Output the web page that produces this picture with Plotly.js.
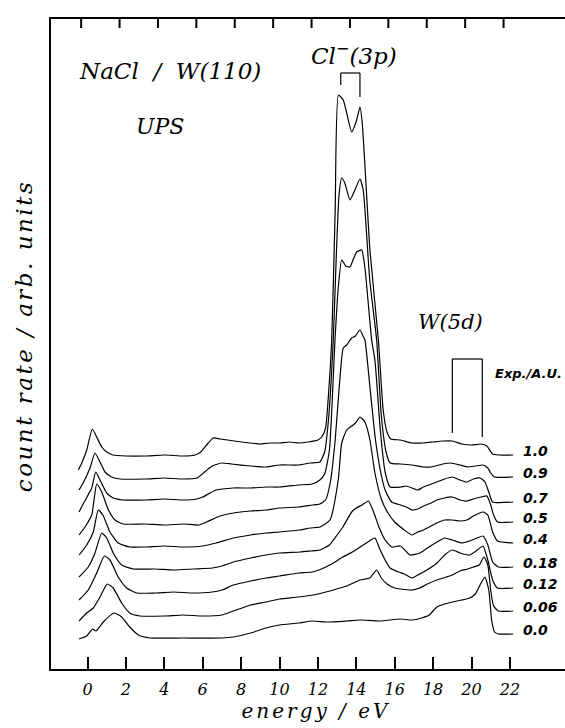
<!DOCTYPE html>
<html><head><meta charset="utf-8">
<script src="https://cdn.plot.ly/plotly-3.0.1.min.js"></script>
<style>html,body{margin:0;padding:0;background:#fff;overflow:hidden}#chart{width:565px;height:728px}</style>
</head><body><div id="chart"></div>
<script>
// coverage labels (top to bottom)
const coverage = ['1.0','0.9','0.7','0.5','0.4','0.18','0.12','0.06','0.0'];

// energies (eV) and count rate (arb. units, stacked)
const e_10 = [-0.48,-0.3,-0.04,0.25,0.48,0.74,1.0,1.33,2.0,3.0,4.0,5.0,5.6,5.9,6.2,6.55,6.9,7.3,8.0,8.5,9.0,9.5,10.0,10.5,11.0,11.5,12.0,12.2,12.4,12.55,12.72,12.9,13.07,13.32,13.5,13.76,14.02,14.19,14.31,14.71,15.15,15.4,15.6,15.8,16.3,16.9,17.5,18.0,18.5,19.0,19.5,20.0,20.5,20.8,21.1,21.4,22.17];
const y_10 = [199,206,219,240,232,222,217,214,213,213,214,213,214,217,224,231,230,229,227,226,225,226,226,227,226,227,229,232,241,274,329,459,574,569,556,537,549,562,546,419,329,259,237,230,229,226,226,227,228,228,225,224,225,223,215,214,214];

const e_09 = [-0.44,-0.2,0.13,0.39,0.65,0.91,1.26,1.7,3.0,4.0,5.0,5.7,6.1,6.5,7.0,7.5,8.5,9.3,10.0,11.0,11.6,12.1,12.35,12.55,12.8,12.95,13.1,13.24,13.4,13.67,13.93,14.19,14.36,14.7,15.06,15.3,15.55,15.76,16.3,16.9,17.5,17.9,18.5,18.9,19.4,19.8,20.2,20.6,20.85,21.0,21.2,22.17];
const y_09 = [179,187,201,216,207,197,192,190,190,191,190,191,197,203,206,205,203,202,204,204,206,207,217,249,329,409,474,491,486,469,479,490,479,389,329,254,217,206,205,204,202,202,205,206,204,202,203,204,201,196,192,192];

const e_07 = [-0.44,-0.2,0.22,0.43,0.65,1.0,1.34,1.86,3.0,4.0,5.0,5.7,6.0,6.7,7.6,8.5,9.3,10.0,11.0,11.7,12.1,12.35,12.6,12.89,13.05,13.24,13.45,13.67,13.85,14.02,14.28,14.45,14.8,14.97,15.25,15.5,15.76,16.3,16.6,16.9,17.2,17.5,18.2,18.6,19.0,19.4,19.76,20.1,20.45,20.7,20.9,21.1,22.17];
const y_07 = [157,166,181,197,189,176,171,169,169,170,169,170,172,179,181,181,182,182,184,185,189,195,219,329,379,409,403,402,410,417,419,401,329,309,239,197,182,182,183,181,179,182,187,190,192,189,187,190,191,187,177,167,167];

const e_05 = [-0.44,-0.13,0.22,0.34,0.48,0.74,1.09,1.43,1.86,3.0,4.0,5.0,5.8,6.2,6.9,7.6,8.5,9.3,10.0,11.0,11.7,12.1,12.4,12.65,12.9,13.1,13.32,13.5,13.76,13.95,14.19,14.35,14.45,14.7,15.0,15.3,15.5,15.84,16.3,16.6,16.9,17.2,17.5,17.9,18.2,18.6,19.0,19.4,19.76,20.1,20.5,20.8,21.0,21.15,21.35,22.17];
const y_05 = [134,142,154,169,185,177,159,149,145,145,144,145,144,147,153,156,158,159,161,162,164,165,169,187,229,279,321,324,331,333,339,333,329,284,229,194,179,167,164,162,159,160,163,166,169,171,172,169,168,170,172,173,164,154,147,147];

const e_04 = [-0.44,-0.04,0.3,0.56,0.8,1.17,1.6,2.2,3.0,4.0,5.0,6.0,6.7,7.6,8.5,9.3,10.0,11.07,11.6,12.1,12.63,13.06,13.24,13.5,13.84,14.0,14.19,14.45,14.71,14.97,15.32,15.65,16.0,16.5,16.9,17.2,17.5,18.2,18.6,19.0,19.4,19.76,20.1,20.6,20.85,21.1,21.35,22.17];
const y_04 = [114,124,137,159,154,137,126,122,122,123,122,123,126,131,134,136,137,139,141,142,149,189,226,239,244,247,252,247,229,196,169,156,147,139,134,137,139,146,149,149,148,149,153,157,154,137,128,126];

const e_018 = [-0.44,0.04,0.39,0.74,1.0,1.34,1.78,2.39,3.5,4.5,5.5,6.5,7.0,7.6,8.5,9.3,10.0,11.07,11.6,12.1,12.6,13.0,13.3,13.76,14.0,14.3,14.63,14.9,15.2,15.5,15.85,16.3,16.8,17.3,17.7,18.2,18.6,19.0,19.5,19.9,20.3,20.6,20.85,21.1,21.4,22.17];
const y_018 = [92,102,116,136,131,116,104,100,100,99,100,101,103,107,111,114,116,117,118,119,124,134,142,157,161,164,168,157,141,129,122,123,114,116,121,127,131,129,126,128,131,133,124,107,102,102];

const e_012 = [-0.44,0.04,0.48,0.88,1.17,1.6,2.04,2.56,3.5,4.5,5.5,6.5,7.0,7.6,8.5,9.3,10.0,11.0,11.7,12.3,12.8,13.3,13.8,14.2,14.6,14.97,15.2,15.5,15.76,16.2,16.5,16.9,17.2,17.5,18.2,18.6,19.0,19.4,19.9,20.3,20.6,20.85,21.1,21.35,22.17];
const y_012 = [69,79,96,113,109,92,81,76,76,77,76,77,79,84,88,91,93,96,97,101,106,112,117,122,127,131,121,109,101,97,95,91,94,97,106,114,119,116,114,119,123,109,89,81,81];

const e_006 = [-0.44,-0.04,0.3,0.65,1.03,1.34,1.78,2.2,2.73,4.0,5.0,6.0,7.0,7.6,8.5,9.3,10.0,11.0,12.0,12.8,13.5,14.2,14.7,15.06,15.3,15.6,16.0,16.3,16.9,17.3,17.7,18.2,18.7,19.0,19.4,19.8,20.1,20.4,20.65,20.85,21.0,21.15,21.4,22.17];
const y_006 = [48,56,61,72,85,81,66,56,53,53,54,53,54,58,64,67,70,72,75,79,83,89,91,99,91,85,81,80,79,81,85,89,92,94,98,100,102,104,112,104,79,63,58,58];

const e_00 = [-0.44,-0.04,0.27,0.44,0.82,1.38,1.78,2.2,2.65,3.26,5.0,7.0,7.6,8.5,9.3,10.0,11.0,11.7,12.5,13.5,14.2,15.2,16.3,16.9,17.4,17.8,18.2,18.6,19.0,19.5,19.9,20.2,20.5,20.7,20.9,21.05,21.2,21.4,22.17];
const y_00 = [30,33,40,38,47,56,52,42,34,31,31,31,32,36,41,44,46,48,47,48,49,48,50,49,51,54,62,65,67,69,71,75,86,92,79,49,37,35,35];

const energies = [e_10,e_09,e_07,e_05,e_04,e_018,e_012,e_006,e_00];
const counts   = [y_10,y_09,y_07,y_05,y_04,y_018,y_012,y_006,y_00];

// energy ticks (bottom) and the slightly offset tick marks of the top frame
const xTicks = [0,2,4,6,8,10,12,14,16,18,20,22];
const topTickShift = -0.33;
// annotated features: Cl-(3p) doublet and W(5d) band edges (eV)
const clDoublet = [13.19, 14.19];
const wBand = [19.0, 20.56];

const traces = energies.map((e,i)=>({
  type:'scatter', mode:'lines', x:e, y:counts[i], name:coverage[i],
  line:{color:'#000', width:1.2, shape:'spline', smoothing:0.5},
  showlegend:false, hoverinfo:'x+y+name'
}));

const serif = 'DejaVu Serif, Liberation Serif, serif';
const sans = 'DejaVu Sans, Liberation Sans, sans-serif';

const annotations = coverage.map((c,i)=>({
  x:22.58, y:counts[i][counts[i].length-1]+4, xref:'x', yref:'y',
  text:'<b><i>'+c+'</i></b>', showarrow:false, xanchor:'left', yanchor:'middle',
  font:{family:sans, size:14, color:'#000'}
}));
annotations.push(
  {x:4.30, y:598, xref:'x', yref:'y', text:'<i>NaCl  /  W(110)</i>', showarrow:false, xanchor:'center', yanchor:'middle', font:{family:serif, size:23, color:'#000'}},
  {x:3.78, y:543, xref:'x', yref:'y', text:'<i>UPS</i>', showarrow:false, xanchor:'center', yanchor:'middle', font:{family:serif, size:22, color:'#000'}},
  {x:13.88, y:615, xref:'x', yref:'y', text:'<i>Cl<sup>−</sup>(3p)</i>', showarrow:false, xanchor:'center', yanchor:'middle', font:{family:serif, size:23, color:'#000'}},
  {x:18.93, y:347, xref:'x', yref:'y', text:'<i>W(5d)</i>', showarrow:false, xanchor:'center', yanchor:'middle', font:{family:serif, size:21, color:'#000'}},
  {x:21.12, y:296, xref:'x', yref:'y', text:'<b><i>Exp./A.U.</i></b>', showarrow:false, xanchor:'left', yanchor:'middle', font:{family:sans, size:13, color:'#000'}}
);

const bl = {color:'#000', width:1.2};
const frame = {color:'#000', width:2};
const shapes = [
  {type:'line', xref:'x', yref:'y', x0:clDoublet[0], x1:clDoublet[0], y0:584, y1:596, line:bl},
  {type:'line', xref:'x', yref:'y', x0:clDoublet[0], x1:clDoublet[1], y0:596, y1:596, line:bl},
  {type:'line', xref:'x', yref:'y', x0:clDoublet[1], x1:clDoublet[1], y0:572, y1:596, line:bl},
  {type:'line', xref:'x', yref:'y', x0:wBand[0], x1:wBand[0], y0:236, y1:310, line:bl},
  {type:'line', xref:'x', yref:'y', x0:wBand[0], x1:wBand[1], y0:310, y1:310, line:bl},
  {type:'line', xref:'x', yref:'y', x0:wBand[1], x1:wBand[1], y0:232, y1:310, line:bl}
].concat(xTicks.map(v=>({type:'line', xref:'x', yref:'y', x0:v+topTickShift, x1:v+topTickShift, y0:650, y1:641, line:frame})));

const xr = [-1.901, 24.870];
const layout = {
  width:565, height:728,
  margin:{l:51, r:0, t:19, b:59},
  paper_bgcolor:'#fff', plot_bgcolor:'#fff',
  showlegend:false,
  xaxis:{
    range:xr, tickvals:xTicks, ticktext:xTicks.map(v=>'<i>'+v+'</i>'),
    ticks:'inside', ticklen:12, tickwidth:2, tickcolor:'#000',
    showline:true, mirror:true, linewidth:2, linecolor:'#000',
    showgrid:false, zeroline:false, automargin:false,
    ticklabelstandoff:5,
    tickfont:{family:serif, size:16, color:'#000'},
    title:{text:'<i>energy / eV</i>', font:{family:serif, size:20, color:'#000'}, standoff:6}
  },
  yaxis:{
    range:[0,650], showline:true, linewidth:2, linecolor:'#000',
    ticks:'', showticklabels:false, showgrid:false, zeroline:false, automargin:false,
    title:{text:'<i>count rate / arb. units</i>', font:{family:serif, size:23, color:'#000'}, standoff:10}
  },
  annotations:annotations,
  shapes:shapes
};

Plotly.newPlot('chart', traces, layout, {staticPlot:true, displayModeBar:false}).then(()=>{
  // the original plotter lettering is widely spaced
  document.querySelectorAll('.g-ytitle text').forEach(t=>{t.style.letterSpacing='2.5px';});
  document.querySelectorAll('.g-xtitle text').forEach(t=>{t.style.letterSpacing='3px';});
  const yt = document.querySelector('.g-ytitle'); if (yt) yt.setAttribute('transform','translate(0,-8)');
  const xt = document.querySelector('.g-xtitle'); if (xt) xt.setAttribute('transform','translate(8,0)');
});
</script></body></html>
